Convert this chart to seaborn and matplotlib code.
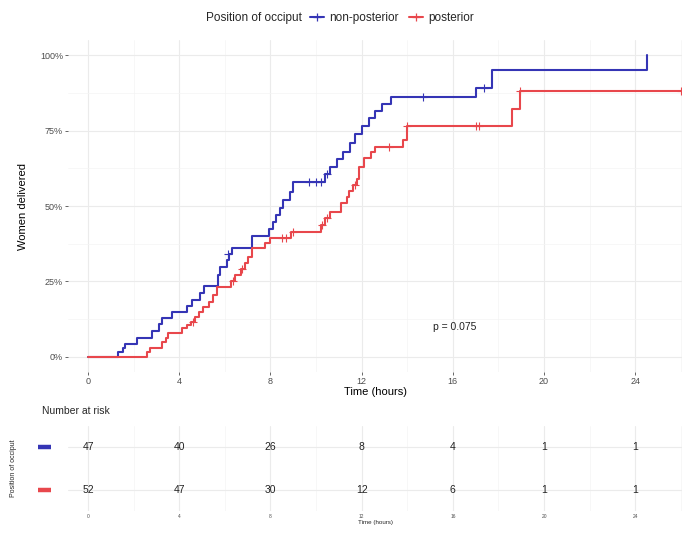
import numpy as np
import pandas as pd
import matplotlib
matplotlib.use('Agg')
import matplotlib.pyplot as plt
import matplotlib.transforms as mtrans
from matplotlib.lines import Line2D
import seaborn as sns

# cumulative proportion delivered (%), step changes
blue_time = [0, 1.3, 1.55, 1.6, 2.15, 2.8, 3.1, 3.25, 3.7, 4.35, 4.55, 4.9, 5.1, 5.7, 5.8, 6.1,
             6.2, 6.3, 7.2, 7.95, 8.1, 8.25, 8.4, 8.55, 8.85, 9.0, 10.4, 10.6, 10.9, 11.2, 11.5,
             11.7, 12.0, 12.3, 12.6, 12.9, 13.3, 17.0, 17.7, 24.5]
blue_level = [0, 1.7, 3, 4.3, 6.4, 8.5, 11, 13, 15, 17, 19, 21.3, 23.4, 27, 29.8, 32,
              34, 36.2, 40, 42.5, 44.7, 47, 49.5, 52, 54.5, 58, 60.5, 63, 65.5, 68, 71,
              74, 76.5, 79, 81.5, 83.8, 86, 89, 95, 100]
red_time = [0, 2.6, 2.7, 3.25, 3.4, 3.5, 4.1, 4.35, 4.5, 4.7, 4.85, 5.05, 5.3, 5.5, 5.65, 6.25,
            6.45, 6.7, 6.9, 7.0, 7.2, 7.75, 8.0, 8.9, 10.2, 10.4, 10.6, 11.1, 11.35, 11.45, 11.6,
            11.8, 11.9, 12.1, 12.4, 12.6, 13.8, 14.0, 18.6, 18.95, 26.0]
red_level = [0, 1.5, 3, 4.8, 6.3, 8, 9.7, 10.7, 11.7, 13.2, 15, 16.6, 18.3, 20.4, 23, 25,
             27, 29, 31, 33, 36, 37.7, 39.5, 41.4, 43.7, 46, 48, 51, 53, 55, 57,
             59, 63, 66, 68, 69.5, 72, 76.5, 82, 88, 88]

# censored observations
blue_cens_t = [6.15, 9.7, 10.0, 10.2, 10.5, 14.7, 17.35]
blue_cens_y = [34, 58, 58, 58, 60.5, 86, 89]
red_cens_t = [4.6, 6.35, 6.75, 8.5, 8.7, 9.0, 10.25, 10.5, 11.7, 13.2, 14.0, 17.0, 17.15, 18.95, 26.0]
red_cens_y = [11.7, 25, 29, 39.5, 39.5, 41.4, 43.7, 46, 57, 69.5, 76.5, 76.5, 76.5, 88, 88]

risk_times = [0, 4, 8, 12, 16, 20, 24]
risk_blue = [47, 40, 26, 8, 4, 1, 1]
risk_red = [52, 47, 30, 12, 6, 1, 1]

groups = ['non-posterior', 'posterior']
cols = {'non-posterior': '#3535B5', 'posterior': '#E8474C'}

sns.set_style('whitegrid')
plt.rcParams['font.family'] = ['Liberation Sans', 'DejaVu Sans']

fig = plt.figure(figsize=(6.82, 5.34), dpi=100)
ax = fig.add_axes([68/682, 1-372/534, 1-68/682, (372-40)/534])
ax2 = fig.add_axes([68/682, 1-511/534, 1-68/682, (511-426)/534])

# main curves
sns.lineplot(x=blue_time, y=blue_level, drawstyle='steps-post', color=cols['non-posterior'],
             lw=1.5, ax=ax, estimator=None)
sns.lineplot(x=red_time, y=red_level, drawstyle='steps-post', color=cols['posterior'],
             lw=1.5, ax=ax, estimator=None)
sns.scatterplot(x=blue_cens_t, y=blue_cens_y, marker='+', s=28, color=cols['non-posterior'],
                linewidth=0.8, ax=ax, zorder=4)
sns.scatterplot(x=red_cens_t, y=red_cens_y, marker='+', s=28, color=cols['posterior'],
                linewidth=0.8, ax=ax, zorder=4)

for a in (ax, ax2):
    a.set_xlim(-0.88, 26.05)
    a.set_xticks(risk_times)
    a.set_xticks([2, 6, 10, 14, 18, 22, 26], minor=True)
    a.grid(which='major', color='#EBEBEB', lw=0.8)
    a.grid(which='minor', color='#F4F4F4', lw=0.5)
    for s in a.spines.values():
        s.set_visible(False)

ax.set_ylim(-5, 105)
ax.set_yticks([0, 25, 50, 75, 100])
ax.set_yticks([12.5, 37.5, 62.5, 87.5], minor=True)
ax.set_yticklabels([f'{v}%' for v in [0, 25, 50, 75, 100]])
ax.tick_params(axis='both', which='major', labelsize=6.5, colors='#4D4D4D', length=2, width=0.6,
               pad=1.5, left=True, bottom=True)
ax.tick_params(which='minor', length=0)
ax.set_xlabel('Time (hours)', fontsize=8, color='black', labelpad=1)
ax.set_ylabel('Women delivered', fontsize=8, color='black', labelpad=9)
ax.text(16.1, 10, 'p = 0.075', fontsize=7.5, ha='center', va='center', color='#222222')

# legend on top
fig.text(302/682, 1-18/534, 'Position of occiput', fontsize=8.5, ha='right', va='center')
handles = [Line2D([0], [0], color=cols[g], lw=1.5, marker='+', markersize=6, mew=0.9) for g in groups]
fig.legend(handles, groups, loc='center left', bbox_to_anchor=(310/682, 1-18/534), ncol=2,
           frameon=False, fontsize=8.5, handlelength=1.2, handletextpad=0.4, columnspacing=0.9,
           borderaxespad=0, borderpad=0)

# risk table
risk = pd.DataFrame({'time': risk_times * 2,
                     'row': [1] * len(risk_times) + [0] * len(risk_times),
                     'n': risk_blue + risk_red})
for _, r in risk.iterrows():
    ax2.text(r['time'], r['row'], str(int(r['n'])), ha='center', va='center', fontsize=7.5,
             color='#222222')
ax2.set_ylim(-0.5, 1.5)
ax2.set_yticks([0, 1])
ax2.set_yticklabels(['', ''])
trans = mtrans.blended_transform_factory(fig.transFigure, ax2.transData)
for g, row in [('non-posterior', 1), ('posterior', 0)]:
    ax2.add_line(Line2D([38/682, 51/682], [row, row], transform=trans, color=cols[g],
                        lw=3.2, solid_capstyle='butt', clip_on=False))
ax2.tick_params(axis='y', length=0, pad=14)
ax2.tick_params(axis='x', labelsize=3.5, colors='#4D4D4D', length=0, pad=2)
ax2.tick_params(which='minor', length=0)
ax2.set_xlabel('Time (hours)', fontsize=4.5, labelpad=1)
ax2.set_ylabel('Position of occiput', fontsize=5)
ax2.yaxis.set_label_coords(-0.083, 0.5)
ax2.grid(axis='y', which='major', color='#EBEBEB', lw=0.8)
fig.text(42/682, 1-411/534, 'Number at risk', fontsize=7.5, ha='left', va='center')

fig.savefig('out.png', dpi=100)
